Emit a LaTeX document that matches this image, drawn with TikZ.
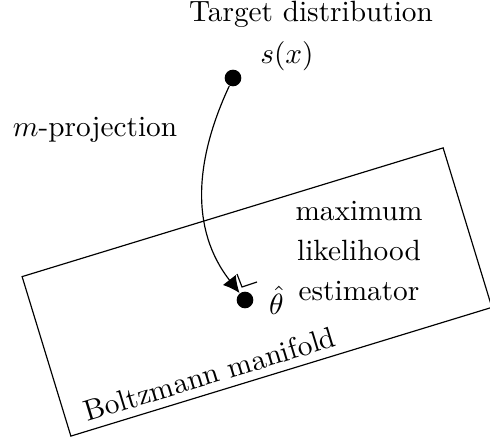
\documentclass[tikz,border=0pt]{standalone}
\usetikzlibrary{arrows.meta,positioning}

\begin{document}
\begin{tikzpicture}[x=0.012cm,y=0.012cm,
  dot/.style={circle,fill=black,inner sep=0pt,minimum size=0.2cm},
  proj/.style={-{Latex[length=5.6pt,width=5.6pt]}}]
\useasboundingbox (0,0) rectangle (490,437);

\node[draw,rotate=17,minimum width=5.28cm,minimum height=2.0cm,inner sep=0pt] (manifold) at (257,145) {};
\node[rotate=17,anchor=base west] (boltz) at (78,12) {Boltzmann manifold};

\node[dot] (s) at (233,359) {};
\node[dot] (theta) at (245,137) {};

\node[anchor=base] (target) at (311,415) {Target distribution};
\node[anchor=base] (sx) at (287,373) {$s(x)$};
\node[right=4pt of theta,inner sep=1pt] (thetahat) {$\hat{\theta}$};
\node[anchor=base] (mproj) at (95,300) {$m$-projection};
\node[align=center,inner sep=1pt] (mle) at (359,186) {maximum\\[1.7pt]likelihood\\[1.7pt]estimator};

\draw[proj] (s) to[out=-115,in=128] (theta);
\draw ([shift={(-8,26)}]theta.center) -- ++(5,-13) -- ++(15,5);

\end{tikzpicture}
\end{document}
